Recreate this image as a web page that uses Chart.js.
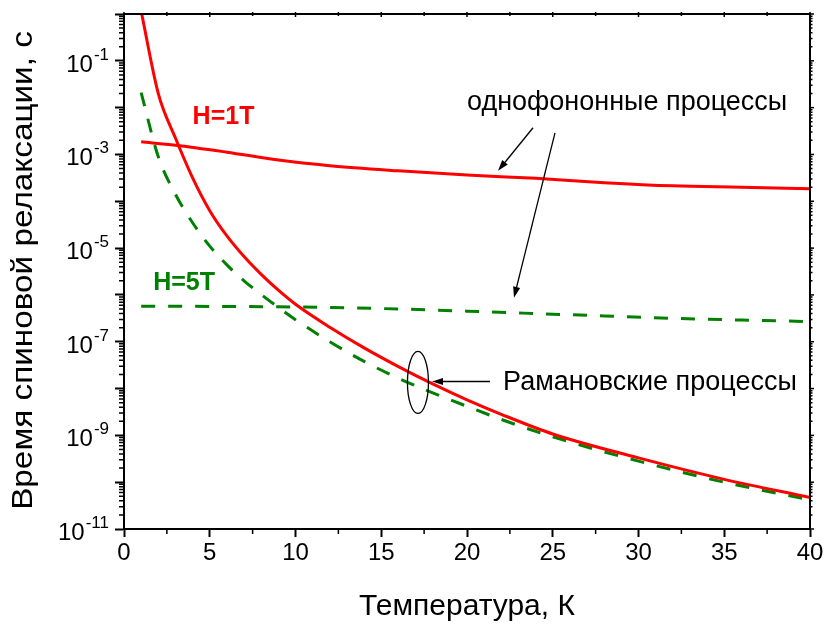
<!DOCTYPE html>
<html>
<head>
<meta charset="utf-8">
<script src="https://cdn.jsdelivr.net/npm/chart.js@4/dist/chart.umd.min.js"></script>
<style>
  html, body { margin: 0; padding: 0; background: #fff; }
  canvas { display: block; }
</style>
</head>
<body>
<canvas id="chart" width="831" height="625"></canvas>
<script>
// Spin relaxation time (s) versus temperature (K)
// Raman processes, H = 1 T
const ramanT1   = [1, 2, 3, 4, 5, 6, 7, 8, 9, 10, 12, 14, 16, 18, 20, 22, 25, 30, 35, 40];
const ramanTau1 = [1.15, 2.0e-2, 2.24e-3, 3.16e-4, 6.3e-5, 1.82e-5, 6.6e-6, 2.75e-6, 1.26e-6, 6.3e-7,
                   2.04e-7, 7.4e-8, 2.95e-8, 1.26e-8, 5.75e-9, 2.82e-9, 1.07e-9, 3.3e-10, 1.15e-10, 4.7e-11];
// One-phonon processes, H = 1 T
const directT1   = [1, 3, 6, 9, 12, 16, 20, 24, 28, 32, 36, 40];
const directTau1 = [1.86e-3, 1.58e-3, 1.12e-3, 7.6e-4, 5.75e-4, 4.47e-4, 3.63e-4, 3.09e-4, 2.5e-4, 2.14e-4, 2.0e-4, 1.86e-4];
// Raman processes, H = 5 T
const ramanT5   = [1, 2, 3, 4, 5, 6, 7, 8, 9, 10, 12, 14, 16, 18, 20, 22, 25, 30, 35, 40];
const ramanTau5 = [2.1e-2, 8.9e-4, 1.41e-4, 3.47e-5, 1.1e-5, 4.37e-6, 2.0e-6, 1.02e-6, 5.4e-7, 2.95e-7,
                   1.0e-7, 3.8e-8, 1.66e-8, 8.1e-9, 4.17e-9, 2.19e-9, 9.3e-10, 2.82e-10, 1.0e-10, 4.2e-11];
// One-phonon processes, H = 5 T
const directT5   = [1, 8, 12, 16, 20, 24, 28, 32, 36, 40];
const directTau5 = [5.75e-7, 5.6e-7, 5.4e-7, 5.0e-7, 4.5e-7, 4.0e-7, 3.55e-7, 3.16e-7, 2.9e-7, 2.7e-7];

// Axis ticks
const xMajorTicks = [0, 5, 10, 15, 20, 25, 30, 35, 40];
const yDecades = [-11, -10, -9, -8, -7, -6, -5, -4, -3, -2, -1, 0];
const yLabelledDecades = [-11, -9, -7, -5, -3, -1];

const FONT = '"Liberation Sans", Arial, Helvetica, sans-serif';
const RED = '#ff0000';
const GREEN = '#008000';
const Y_TITLE = 'Время спиновой релаксации, с';

const pairs = (xs, ys) => xs.map((x, i) => ({ x, y: ys[i] }));

function arrow(ctx, x1, y1, x2, y2) {
  const a = Math.atan2(y2 - y1, x2 - x1);
  const len = 11, half = 3.6;
  ctx.beginPath();
  ctx.moveTo(x1, y1);
  ctx.lineTo(x2 - Math.cos(a) * len * 0.8, y2 - Math.sin(a) * len * 0.8);
  ctx.stroke();
  ctx.beginPath();
  ctx.moveTo(x2, y2);
  ctx.lineTo(x2 - Math.cos(a) * len + Math.sin(a) * half, y2 - Math.sin(a) * len - Math.cos(a) * half);
  ctx.lineTo(x2 - Math.cos(a) * len - Math.sin(a) * half, y2 - Math.sin(a) * len + Math.cos(a) * half);
  ctx.closePath();
  ctx.fill();
}

const framePlugin = {
  id: 'frame',
  afterDraw(chart) {
    const { ctx, chartArea: ca, scales: { x, y } } = chart;
    ctx.save();
    ctx.strokeStyle = '#000';
    ctx.fillStyle = '#000';
    ctx.lineWidth = 2;
    // top and right frame
    ctx.beginPath();
    ctx.moveTo(ca.left, ca.top);
    ctx.lineTo(ca.right, ca.top);
    ctx.lineTo(ca.right, ca.bottom);
    ctx.stroke();

    // x ticks: minor below, small marks on top
    ctx.lineWidth = 1.5;
    for (let v = 0; v <= 40; v += 2.5) {
      const px = x.getPixelForValue(v);
      const major = v % 5 === 0;
      ctx.beginPath();
      if (!major) { ctx.moveTo(px, ca.bottom); ctx.lineTo(px, ca.bottom + 5); }
      ctx.moveTo(px, ca.top - 2);
      ctx.lineTo(px, ca.top + (major ? 3 : 2));
      ctx.stroke();
    }
    // y minor ticks (left outside, right outside) and right major ticks
    for (const e of yDecades) {
      const mults = e === 0 ? [1] : [1, 2, 3, 4, 5, 6, 7, 8, 9];
      for (const m of mults) {
        const v = m * Math.pow(10, e);
        if (v < 1e-11 || v > 1) continue;
        const py = y.getPixelForValue(v);
        ctx.beginPath();
        if (m !== 1) { ctx.moveTo(ca.left, py); ctx.lineTo(ca.left - 5, py); }
        ctx.moveTo(ca.right, py);
        ctx.lineTo(ca.right + (m === 1 ? 4 : 2.5), py);
        ctx.stroke();
      }
    }

    // y tick labels with superscript exponents
    ctx.textBaseline = 'alphabetic';
    ctx.textAlign = 'left';
    const rightEdge = ca.left - 15;
    for (const e of yLabelledDecades) {
      const py = y.getPixelForValue(Math.pow(10, e));
      const sup = '-' + Math.abs(e);
      ctx.font = '17px ' + FONT;
      const sw = ctx.measureText(sup).width;
      ctx.fillText(sup, rightEdge - sw, py - 1);
      ctx.font = '24px ' + FONT;
      const bw = ctx.measureText('10').width;
      ctx.fillText('10', rightEdge - sw - bw - 1, py + 11);
    }

    // y axis title, widened along its run
    ctx.save();
    ctx.translate(24, (ca.top + ca.bottom) / 2 - 1);
    ctx.rotate(-Math.PI / 2);
    ctx.scale(1.11, 1);
    ctx.font = '30px ' + FONT;
    ctx.textAlign = 'center';
    ctx.textBaseline = 'middle';
    ctx.fillText(Y_TITLE, 0, 0);
    ctx.restore();

    // annotations
    ctx.save();
    ctx.beginPath();
    ctx.rect(ca.left, ca.top, ca.right - ca.left, ca.bottom - ca.top);
    ctx.clip();
    ctx.textBaseline = 'middle';
    ctx.textAlign = 'left';
    ctx.font = 'bold 25px ' + FONT;
    ctx.fillStyle = RED;
    ctx.fillText('H=1T', x.getPixelForValue(4.0), y.getPixelForValue(Math.pow(10, -2.2)));
    ctx.fillStyle = GREEN;
    ctx.fillText('H=5T', x.getPixelForValue(1.7), y.getPixelForValue(Math.pow(10, -5.74)));

    ctx.fillStyle = '#000';
    ctx.font = '27px ' + FONT;
    ctx.fillText('однофононные процессы', x.getPixelForValue(20.0), y.getPixelForValue(Math.pow(10, -1.9)));
    ctx.fillText('Рамановские процессы', x.getPixelForValue(22.1), y.getPixelForValue(Math.pow(10, -7.87)));

    ctx.strokeStyle = '#000';
    ctx.lineWidth = 1.3;
    const P = (t, lg) => [x.getPixelForValue(t), y.getPixelForValue(Math.pow(10, lg))];
    arrow(ctx, ...P(23.85, -2.43), ...P(21.81, -3.35));
    arrow(ctx, ...P(25.13, -2.54), ...P(22.74, -6.06));
    arrow(ctx, ...P(21.34, -7.85), ...P(17.96, -7.85));

    const [ex, ey] = P(17.14, -7.87);
    ctx.beginPath();
    ctx.ellipse(ex, ey, 10.5, 31, 0, 0, Math.PI * 2);
    ctx.stroke();
    ctx.restore();
    ctx.restore();
  }
};

new Chart(document.getElementById('chart'), {
  type: 'line',
  data: {
    datasets: [
      { data: pairs(ramanT1, ramanTau1), borderColor: RED, borderWidth: 3 },
      { data: pairs(directT1, directTau1), borderColor: RED, borderWidth: 3 },
      { data: pairs(ramanT5, ramanTau5), borderColor: GREEN, borderWidth: 3, borderDash: [14, 13] },
      { data: pairs(directT5, directTau5), borderColor: GREEN, borderWidth: 3, borderDash: [14, 13] }
    ]
  },
  options: {
    responsive: false,
    animation: false,
    layout: { padding: { left: 0, right: 21, top: 14, bottom: 0 } },
    elements: {
      point: { radius: 0 },
      line: { cubicInterpolationMode: 'monotone', borderCapStyle: 'butt', fill: false }
    },
    plugins: { legend: { display: false }, tooltip: { enabled: false } },
    scales: {
      x: {
        type: 'linear', min: 0, max: 40,
        afterBuildTicks(s) { s.ticks = xMajorTicks.map(v => ({ value: v })); },
        ticks: { color: '#000', font: { family: FONT, size: 24 }, padding: 2, maxRotation: 0, autoSkip: false },
        grid: { drawOnChartArea: false, drawTicks: true, tickLength: 8, tickWidth: 2, tickColor: '#000' },
        border: { color: '#000', width: 2 },
        title: { display: true, text: 'Температура, К', color: '#000',
                 font: { family: FONT, size: 30 }, padding: { top: 0, bottom: 0 } },
        afterFit(s) { s.height = 96; }
      },
      y: {
        type: 'logarithmic', min: 1e-11, max: 1,
        afterBuildTicks(s) { s.ticks = yDecades.map(e => ({ value: Math.pow(10, e), major: true })); },
        ticks: { callback: () => '', autoSkip: false },
        grid: { drawOnChartArea: false, drawTicks: true, tickLength: 9, tickWidth: 2, tickColor: '#000' },
        border: { color: '#000', width: 2 },
        title: { display: false },
        afterFit(s) { s.width = 124; }
      }
    }
  },
  plugins: [framePlugin]
});
</script>
</body>
</html>
